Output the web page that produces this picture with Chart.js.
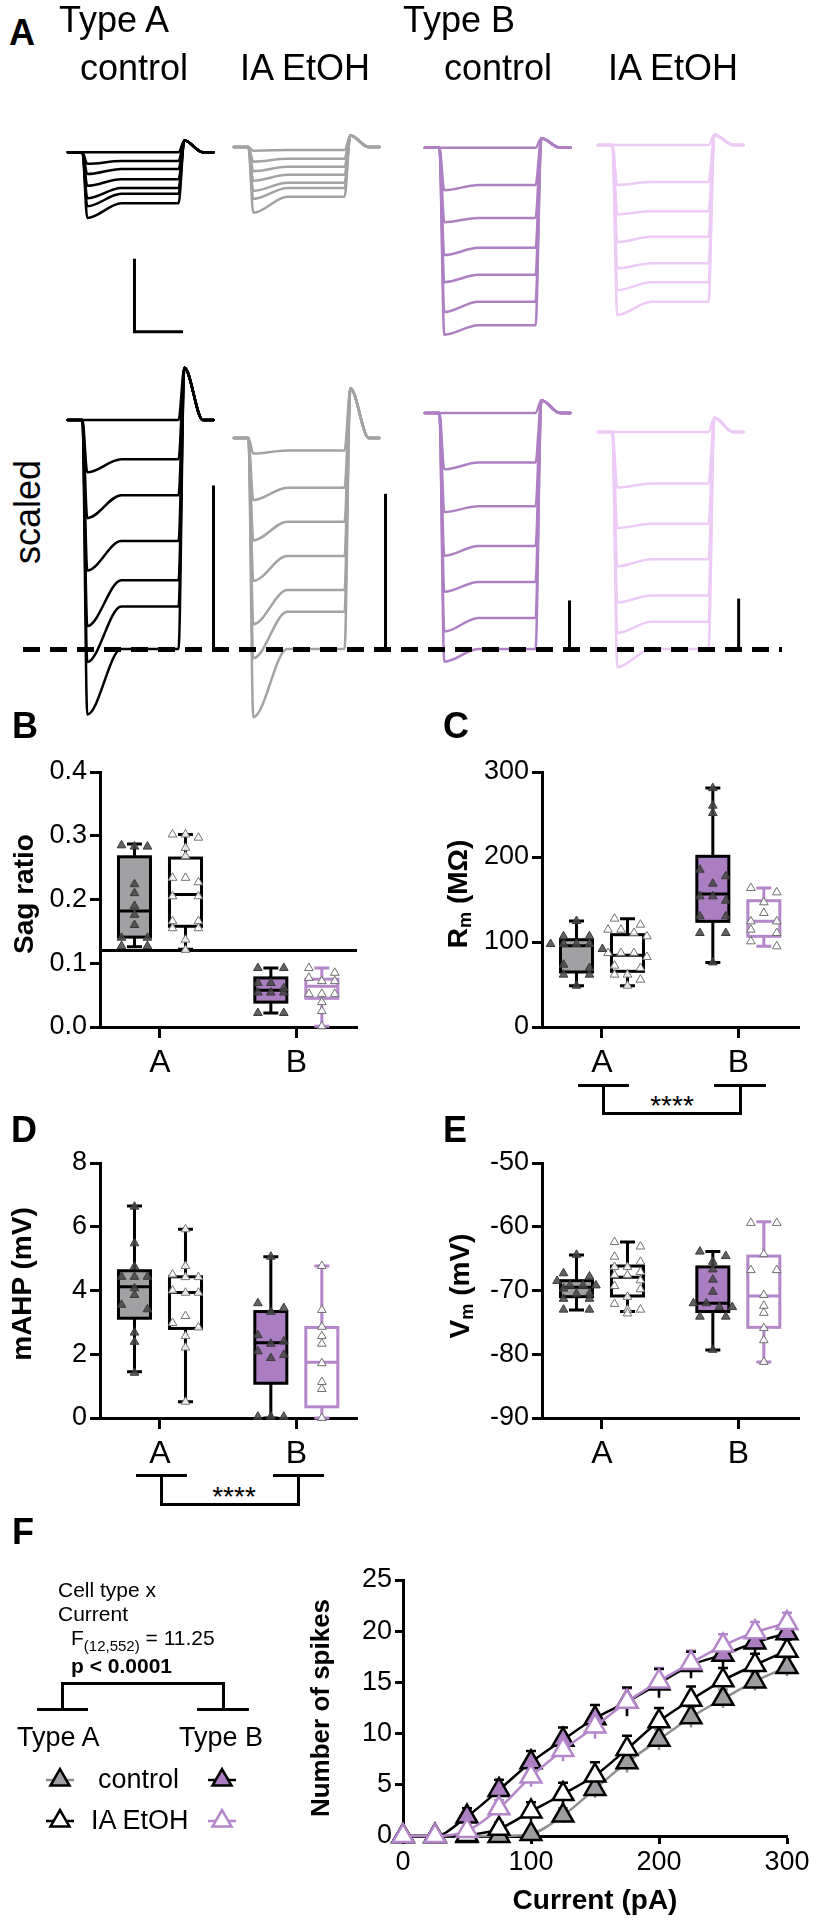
<!DOCTYPE html>
<html>
<head>
<meta charset="utf-8">
<script src="https://cdn.jsdelivr.net/npm/chart.js@4.4.1/dist/chart.umd.min.js"></script>
<style>
html,body{margin:0;padding:0;background:#fff;}
#fig{position:relative;width:814px;height:1920px;overflow:hidden;font-family:"Liberation Sans",Arial,sans-serif;color:#000;}
#fig canvas{position:absolute;}
.t{position:absolute;white-space:nowrap;line-height:1;}
.v{position:absolute;white-space:nowrap;line-height:1;transform:translate(-50%,-50%) rotate(-90deg);font-weight:bold;}
.v sub{font-size:0.65em;vertical-align:-0.25em;}
.ln{position:absolute;background:#000;}
</style>
</head>
<body>
<div id="fig"></div>
<script>
// ---------- A: step traces (ms from step onset, mV) ----------
const stepTimes = [-75, 0, 25, 200, 495, 525, 620, 675];

const aCtrlBase = -70.3;
const aCtrlPeak = [-70.3, -71.9, -73.3, -74.9, -76.6, -77.7, -79.3];
const aCtrlSteady = [-70.3, -71.5, -72.6, -74.0, -75.2, -76.0, -77.3];
const aCtrlRebound = -68.7;

const aEtohBase = -69.6;
const aEtohPeak = [-70.1, -71.6, -72.9, -74.2, -75.6, -76.7, -78.6];
const aEtohSteady = [-70.0, -71.2, -72.3, -73.4, -74.5, -75.2, -76.4];
const aEtohRebound = -68.0;

const bCtrlBase = -69.7;
const bCtrlPeak = [-69.7, -75.5, -79.9, -84.4, -88.1, -92.2, -95.3];
const bCtrlSteady = [-69.7, -74.8, -79.3, -83.4, -87.1, -90.8, -94.0];
const bCtrlRebound = -68.4;

const bEtohBase = -69.3;
const bEtohPeak = [-69.3, -74.8, -78.8, -82.6, -86.2, -89.2, -92.6];
const bEtohSteady = [-69.3, -74.4, -78.4, -81.9, -85.5, -88.1, -90.8];
const bEtohRebound = -67.9;

const scaleBarMv = 10;
const scaleBarMs = 250;
const scaledBarMv = 5;

// ---------- B-E: box plots [min, q1, median, q3, max] ----------
const groupNames = ['A', 'B'];

const sagBox = [[0.126, 0.141, 0.182, 0.267, 0.287], [0.122, 0.158, 0.208, 0.265, 0.302],
                [0.022, 0.039, 0.0575, 0.077, 0.0925], [0.001, 0.045, 0.064, 0.075, 0.0925]];
const sagPts = [
  [0.283, 0.283, 0.285, 0.224, 0.21, 0.19, 0.176, 0.16, 0.14, 0.14, 0.127, 0.127],
  [0.302, 0.302, 0.297, 0.281, 0.268, 0.234, 0.234, 0.227, 0.205, 0.205, 0.166, 0.166, 0.155, 0.155, 0.137, 0.121],
  [0.0925, 0.0925, 0.069, 0.069, 0.061, 0.054, 0.054, 0.054, 0.022, 0.022],
  [0.0925, 0.085, 0.077, 0.072, 0.072, 0.052, 0.052, 0.052, 0.039, 0.025, 0.001]];
const sagCutoff = 0.12;

const rmBox = [[48.6, 64.7, 95.7, 102.7, 124.7], [48.6, 65.5, 84.3, 108.6, 127.5],
               [76, 124.3, 156.5, 200.8, 281.2], [94.9, 106.7, 124.3, 148.6, 163.5]];
const rmPts = [
  [124.7, 106.7, 106.7, 97.6, 97.6, 97.6, 97.6, 91.8, 73.3, 69.4, 61.6, 61.6, 48.6],
  [127.5, 120.4, 114.5, 114.5, 110.6, 106.7, 87, 87, 87, 82.4, 72.2, 69.4, 61.6, 61.6, 55.7, 48.6],
  [281, 260.4, 251.8, 185, 177.3, 168.6, 153.7, 153.7, 148.6, 130.2, 130.2, 110.6, 110.6, 76],
  [163.5, 158.4, 146.7, 134.1, 124.3, 124.3, 114.5, 110.6, 100.8, 94.9]];

const ahpBox = [[1.45, 3.13, 4.12, 4.62, 6.65], [0.51, 2.81, 3.94, 4.43, 5.92],
                [0, 1.09, 2.36, 3.34, 5.06], [0, 0.35, 1.75, 2.84, 4.77]];
const ahpPts = [
  [6.63, 5.48, 4.75, 4.43, 4.43, 4.43, 4.07, 3.86, 3.55, 3.41, 2.68, 2.39, 1.42],
  [5.92, 4.77, 4.5, 4.42, 4.42, 4.0, 3.93, 3.93, 3.2, 2.98, 2.84, 2.57, 2.21, 0.51],
  [5.06, 3.6, 3.45, 3.33, 2.6, 2.4, 2.33, 2.09, 1.98, 1.88, 0.04, 0.04, 0.04],
  [4.77, 3.39, 2.86, 2.57, 2.33, 1.72, 1.13, 0.91, 0]];

const vmBox = [[-73.06, -70.97, -69.5, -68.46, -64.43], [-73.3, -70.86, -67.94, -66.16, -62.4],
               [-79.33, -73.3, -72.0, -66.3, -63.9], [-81.2, -75.78, -70.86, -64.6, -59.2]];
const vmPts = [
  [-64.4, -67.3, -67.8, -68.5, -69.2, -69.2, -69.2, -69.7, -70.5, -70.5, -71.3, -71.3, -73, -73],
  [-62.4, -63.1, -64.7, -65.5, -66.3, -66.3, -67.1, -67.6, -67.6, -68.4, -69.3, -69.8, -71, -72.1, -73, -73, -73.6],
  [-63.9, -64.6, -65.5, -66.7, -68.3, -70.2, -72, -72, -72.6, -72.6, -74.1, -74.1, -79.3],
  [-59.4, -59.4, -64.3, -66.8, -66.8, -70.7, -72.4, -73.5, -75.9, -77.8, -81.2]];

// ---------- F: spikes vs current ----------
const current = [0, 25, 50, 75, 100, 125, 150, 175, 200, 225, 250, 275, 300];
const aCtrlSpikes = [0, 0, 0, 0, 0.2, 2.0, 4.6, 7.2, 9.4, 11.6, 13.4, 15.1, 16.5];
const aEtohSpikes = [0, 0, 0.1, 0.7, 2.4, 4.1, 5.9, 8.5, 11.2, 13.3, 15.2, 16.7, 18.1];
const bCtrlSpikes = [0, 0, 1.9, 4.5, 7.2, 9.4, 11.5, 13.1, 14.9, 16.7, 17.7, 18.9, 19.8];
const bEtohSpikes = [0, 0, 0.5, 2.7, 5.8, 8.4, 10.7, 13.1, 15.1, 16.9, 18.6, 19.9, 20.8];
const aCtrlSem = [0, 0, 0, 0.1, 0.3, 0.7, 0.9, 1.0, 1.0, 1.0, 0.9, 0.9, 0.9];
const aEtohSem = [0, 0, 0.2, 0.6, 0.9, 1.1, 1.3, 1.3, 1.3, 1.3, 1.2, 1.1, 1.1];
const bCtrlSem = [0, 0, 0.8, 1.0, 1.1, 1.2, 1.3, 1.4, 1.4, 1.3, 1.2, 1.1, 1.0];
const bEtohSem = [0, 0, 0.3, 0.8, 1.0, 1.1, 1.2, 1.3, 1.3, 1.2, 1.1, 1.0, 1.0];

// colours
const black = '#000';
const grayLine = '#a3a3a6';
const purple = '#ae80c3';
const lilac = '#edcbf6';
const grayFill = '#a1a1a4';
const purpleFill = '#ab7ec1';
const purpleEdge = '#b586c9';

Chart.defaults.font.family = '"Liberation Sans", Arial, sans-serif';
Chart.defaults.color = '#000';
Chart.defaults.animation = false;
Chart.defaults.events = [];
Chart.defaults.plugins.legend.display = false;
Chart.defaults.plugins.tooltip.enabled = false;

const fig = document.getElementById('fig');

function canvasAt(left, top, w, h) {
  const c = document.createElement('canvas');
  c.width = w; c.height = h;
  c.style.left = left + 'px'; c.style.top = top + 'px';
  c.style.width = w + 'px'; c.style.height = h + 'px';
  fig.appendChild(c);
  return c;
}

function txt(html, left, base, size, bold, center) {
  const d = document.createElement('div');
  d.className = 't';
  d.innerHTML = html;
  d.style.fontSize = size + 'px';
  d.style.left = left + 'px';
  d.style.top = (base - 0.8465 * size) + 'px';
  if (bold) d.style.fontWeight = 'bold';
  if (center) d.style.transform = 'translateX(-50%)';
  fig.appendChild(d);
  return d;
}

function vtxt(html, cx, cy, size) {
  const d = document.createElement('div');
  d.className = 'v';
  d.innerHTML = html;
  d.style.fontSize = size + 'px';
  d.style.left = cx + 'px';
  d.style.top = cy + 'px';
  fig.appendChild(d);
}

function hline(x1, x2, y, w) {
  w = w || 3;
  const d = document.createElement('div');
  d.className = 'ln';
  Object.assign(d.style, {left: x1 + 'px', top: (y - w / 2) + 'px', width: (x2 - x1) + 'px', height: w + 'px'});
  fig.appendChild(d);
}

function vline(x, y1, y2, w) {
  w = w || 3;
  const d = document.createElement('div');
  d.className = 'ln';
  Object.assign(d.style, {left: (x - w / 2) + 'px', top: y1 + 'px', width: w + 'px', height: (y2 - y1) + 'px'});
  fig.appendChild(d);
}

/* PANEL A */

const traceGroups = [
  {base: aCtrlBase, peak: aCtrlPeak, steady: aCtrlSteady, rebound: aCtrlRebound, color: black},
  {base: aEtohBase, peak: aEtohPeak, steady: aEtohSteady, rebound: aEtohRebound, color: grayLine},
  {base: bCtrlBase, peak: bCtrlPeak, steady: bCtrlSteady, rebound: bCtrlRebound, color: purple},
  {base: bEtohBase, peak: bEtohPeak, steady: bEtohSteady, rebound: bEtohRebound, color: lilac}
];

const traceLayout = {
  pxPerMs: 0.194, tMin: -100, tMax: 760,
  onsetPx: [82, 248, 439, 612],
  top: {top: 4, height: 365, vMax: -50, vMin: -100, barAt: [268, -94.9]},
  scaled: {top: 360, height: 380, basePx: [420, 438, 413, 432], floorPx: 649, barT: [675, 706, 670, 650]}
};

function traceChart(gi, row) {
  const g = traceGroups[gi];
  const L = traceLayout;
  const left = L.onsetPx[gi] + L.tMin * L.pxPerMs;
  const width = Math.round((L.tMax - L.tMin) * L.pxPerMs);
  const deep = Math.min(...g.steady);
  let top, height, vMax, vMin;
  if (row === 'top') {
    top = L.top.top; height = L.top.height; vMax = L.top.vMax; vMin = L.top.vMin;
  } else {
    const S = L.scaled;
    top = S.top; height = S.height;
    const k = (S.floorPx - S.basePx[gi]) / (g.base - deep);
    vMax = g.base + (S.basePx[gi] - top) / k;
    vMin = vMax - height / k;
  }

  const datasets = g.steady.map((s, i) => {
    const v = [g.base, g.base, g.peak[i], s, s, g.rebound, g.base, g.base];
    return {
      data: stepTimes.map((t, k) => ({x: t, y: v[k]})),
      borderColor: g.color, borderWidth: 2.5, pointRadius: 0,
      cubicInterpolationMode: 'monotone', clip: false,
      borderJoinStyle: 'round', borderCapStyle: 'round'
    };
  });

  // scale bars
  if (row === 'top' && gi === 0) {
    const [bt, bv] = L.top.barAt;
    datasets.push({
      data: [{x: bt, y: bv + scaleBarMv}, {x: bt, y: bv}, {x: bt + scaleBarMs, y: bv}],
      borderColor: black, borderWidth: 3, pointRadius: 0, tension: 0, clip: false
    });
  }
  if (row === 'scaled') {
    const bt = L.scaled.barT[gi];
    datasets.push({
      data: [{x: bt, y: deep}, {x: bt, y: deep + scaledBarMv}],
      borderColor: black, borderWidth: 3, pointRadius: 0, tension: 0, clip: false
    });
  }

  new Chart(canvasAt(left, top, width, height), {
    type: 'line',
    data: {datasets},
    options: {
      responsive: false,
      layout: {padding: 0},
      scales: {
        x: {type: 'linear', display: false, min: L.tMin, max: L.tMax},
        y: {display: false, min: vMin, max: vMax}
      }
    }
  });
}

for (let i = 0; i < 4; i++) { traceChart(i, 'top'); traceChart(i, 'scaled'); }

// dashed reference line
const dash = document.createElement('div');
Object.assign(dash.style, {position: 'absolute', left: '23px', top: '646.5px', width: '759px', height: '5px',
  background: 'repeating-linear-gradient(90deg,#000 0 17px,transparent 17px 27px)'});
fig.appendChild(dash);

txt('A', 9, 45, 36, true);
txt('Type A', 59, 32, 36);
txt('Type B', 403, 32, 36);
txt('control', 80, 80, 36);
txt('IA EtOH', 240, 80, 36);
txt('control', 444, 80, 36);
txt('IA EtOH', 608, 80, 36);
vtxt('<span style="font-weight:normal">scaled</span>', 28, 512, 36);

/* BOX PLOTS */

const boxX = [0.813, 1.187, 1.813, 2.187];
const boxStyle = [
  {fill: grayFill, line: black, open: false},
  {fill: '#fff', line: black, open: true},
  {fill: purpleFill, line: black, open: false},
  {fill: '#fff', line: purpleEdge, open: true}
];

function swarm(vals, center, range) {
  const sorted = vals.map(v => v).sort((a, b) => b - a);
  const rows = [];
  sorted.forEach(v => {
    const last = rows[rows.length - 1];
    if (last && last[0] - v < range * 0.026) last.push(v); else rows.push([v]);
  });
  const pts = [];
  rows.forEach(r => r.forEach((v, k) => {
    const off = r.length === 1 ? 0 : r.length === 2 ? (k ? 1 : -1) : k - (r.length - 1) / 2;
    pts.push({x: center + off * 0.095, y: v});
  }));
  return pts;
}

const boxPlugin = {
  id: 'boxes',
  beforeDatasetsDraw(chart, args, opts) {
    const {ctx, scales: {x, y}, chartArea} = chart;
    ctx.save();
    ctx.lineCap = 'butt';
    if (opts.cutoff != null) {
      ctx.strokeStyle = black; ctx.lineWidth = 3;
      const py = y.getPixelForValue(opts.cutoff);
      ctx.beginPath(); ctx.moveTo(chartArea.left, py); ctx.lineTo(chartArea.right, py); ctx.stroke();
    }
    opts.stats.forEach((s, i) => {
      const st = boxStyle[i];
      const cx = x.getPixelForValue(boxX[i]);
      const [lo, q1, med, q3, hi] = s.map(v => y.getPixelForValue(v));
      ctx.strokeStyle = st.line; ctx.lineWidth = 3;
      ctx.beginPath();
      ctx.moveTo(cx, hi); ctx.lineTo(cx, lo);
      ctx.moveTo(cx - 7.5, hi); ctx.lineTo(cx + 7.5, hi);
      ctx.moveTo(cx - 7.5, lo); ctx.lineTo(cx + 7.5, lo);
      ctx.stroke();
      ctx.fillStyle = st.fill;
      ctx.fillRect(cx - 16, q3, 32, q1 - q3);
      ctx.strokeRect(cx - 16, q3, 32, q1 - q3);
      ctx.beginPath(); ctx.moveTo(cx - 16, med); ctx.lineTo(cx + 16, med); ctx.stroke();
    });
    ctx.restore();
  }
};

function boxChart(left, top, stats, pts, yMin, yMax, step, fmt, cutoff) {
  const datasets = pts.map((vals, i) => ({
    data: swarm(vals, boxX[i], yMax - yMin),
    pointStyle: 'triangle', pointRadius: 5, pointBorderWidth: 1,
    pointBackgroundColor: boxStyle[i].open ? 'rgba(255,255,255,0.9)' : 'rgba(70,70,70,0.85)',
    pointBorderColor: boxStyle[i].open ? '#707070' : '#3a3a3a',
    clip: false
  }));
  new Chart(canvasAt(left, top, 370, 337), {
    type: 'scatter',
    data: {datasets},
    options: {
      responsive: false,
      layout: {padding: {left: 0, right: 13, top: 32, bottom: 0}},
      plugins: {boxes: {stats, cutoff}},
      scales: {
        x: {
          type: 'linear', min: 0.56, max: 2.445,
          afterFit: s => { s.height = 50; },
          afterBuildTicks: s => { s.ticks = [{value: 1}, {value: 2}]; },
          ticks: {autoSkip: false, callback: v => groupNames[v - 1], font: {size: 32}, padding: 6, color: black, maxRotation: 0},
          grid: {drawOnChartArea: false, tickLength: 11, tickWidth: 3, tickColor: black},
          border: {width: 3, color: black}
        },
        y: {
          min: yMin, max: yMax,
          afterFit: s => { s.width = 100; },
          ticks: {stepSize: step, callback: fmt, font: {size: 27}, padding: 3, color: black},
          grid: {drawOnChartArea: false, tickLength: 10, tickWidth: 3, tickColor: black},
          border: {width: 3, color: black}
        }
      }
    },
    plugins: [boxPlugin]
  });
}

const plain = v => String(Math.round(v));
boxChart(0, 740, sagBox, sagPts, 0, 0.4, 0.1, v => v.toFixed(1), sagCutoff);
boxChart(442, 740, rmBox, rmPts, 0, 300, 100, plain);
boxChart(0, 1131, ahpBox, ahpPts, 0, 8, 2, plain);
boxChart(442, 1131, vmBox, vmPts, -90, -50, 10, plain);

txt('B', 12, 738, 36, true);
txt('C', 443, 738, 36, true);
txt('D', 11, 1142, 36, true);
txt('E', 443, 1142, 36, true);

vtxt('Sag ratio', 24, 894, 28);
vtxt('R<sub>m</sub> (M&Omega;)', 459, 894, 28);
vtxt('mAHP (mV)', 22, 1284, 28);
vtxt('V<sub>m</sub> (mV)', 461, 1286, 28);

// significance brackets
hline(578, 629, 1085); hline(714, 766, 1085);
vline(603, 1085, 1113); vline(740, 1085, 1113);
hline(601.5, 741.5, 1113);
txt('****', 672, 1116, 28, false, true);

hline(136, 187, 1475); hline(273, 324, 1475);
vline(161, 1475, 1504); vline(298, 1475, 1504);
hline(159.5, 299.5, 1504);
txt('****', 234, 1507, 28, false, true);

/* PANEL F */

const fSeries = [
  {name: 'Type B IA EtOH', y: bEtohSpikes, sem: bEtohSem, line: purpleEdge, fill: '#fff', edge: purpleEdge},
  {name: 'Type B control', y: bCtrlSpikes, sem: bCtrlSem, line: black, fill: purpleFill, edge: black},
  {name: 'Type A IA EtOH', y: aEtohSpikes, sem: aEtohSem, line: black, fill: '#fff', edge: black},
  {name: 'Type A control', y: aCtrlSpikes, sem: aCtrlSem, line: '#8f8f8f', fill: '#9e9ea1', edge: black}
];

const errorBars = {
  id: 'errorBars',
  beforeDatasetsDraw(chart) {
    const {ctx, scales: {x, y}} = chart;
    ctx.save();
    ctx.lineWidth = 2.5;
    chart.data.datasets.forEach(ds => {
      ctx.strokeStyle = ds.borderColor;
      ds.data.forEach((p, i) => {
        const e = ds.sem[i];
        if (!e) return;
        const px = x.getPixelForValue(p.x);
        const t = y.getPixelForValue(p.y + e), b = y.getPixelForValue(Math.max(0, p.y - e));
        ctx.beginPath();
        ctx.moveTo(px, t); ctx.lineTo(px, b);
        ctx.moveTo(px - 5, t); ctx.lineTo(px + 5, t);
        ctx.stroke();
      });
    });
    ctx.restore();
  }
};

// legend markers, drawn like the chart's points
const legendMarks = [
  {x: 60, y: 230, s: 3}, {x: 222, y: 230, s: 1},
  {x: 60, y: 271, s: 2}, {x: 222, y: 271, s: 0}
];
const fLegend = {
  id: 'fLegend',
  afterDraw(chart) {
    const ctx = chart.ctx;
    legendMarks.forEach(m => {
      const s = fSeries[m.s];
      ctx.save();
      ctx.lineWidth = 2.5;
      ctx.strokeStyle = s.line;
      ctx.beginPath(); ctx.moveTo(m.x - 14, m.y); ctx.lineTo(m.x + 14, m.y); ctx.stroke();
      ctx.fillStyle = s.fill;
      ctx.strokeStyle = s.edge;
      Chart.helpers.drawPoint(ctx, {pointStyle: 'triangle', radius: 11, borderWidth: 2.5, rotation: 0}, m.x, m.y);
      ctx.restore();
    });
  }
};

new Chart(canvasAt(0, 1550, 814, 370), {
  type: 'scatter',
  data: {
    datasets: fSeries.map((s, i) => ({
      label: s.name,
      data: current.map((c, k) => ({x: c, y: s.y[k]})),
      sem: s.sem,
      showLine: true,
      borderColor: s.line, borderWidth: 2.5,
      cubicInterpolationMode: 'monotone',
      pointStyle: 'triangle', pointRadius: 12, pointBorderWidth: 2.5,
      pointBackgroundColor: s.fill, pointBorderColor: s.edge,
      order: i, clip: false
    }))
  },
  options: {
    responsive: false,
    layout: {padding: {left: 300, right: 27, top: 30, bottom: 0}},
    scales: {
      x: {
        type: 'linear', min: 0, max: 300,
        afterFit: s => { s.height = 84; },
        ticks: {stepSize: 100, font: {size: 27}, padding: 2, color: black, maxRotation: 0},
        grid: {drawOnChartArea: false, tickLength: 8, tickWidth: 3, tickColor: black},
        border: {width: 3, color: black},
        title: {display: true, text: 'Current (pA)', font: {size: 28, weight: 'bold'}, padding: {top: 0, bottom: 2}, color: black}
      },
      y: {
        min: 0, max: 25,
        afterFit: s => { s.width = 103; },
        ticks: {stepSize: 5, font: {size: 27}, padding: 3, color: black},
        grid: {drawOnChartArea: false, tickLength: 8, tickWidth: 3, tickColor: black},
        border: {width: 3, color: black},
        title: {display: true, text: 'Number of spikes', font: {size: 26, weight: 'bold'}, padding: {top: 6, bottom: 0}, color: black}
      }
    }
  },
  plugins: [errorBars, fLegend]
});

txt('F', 12, 1544, 36, true);
txt('Cell type x', 58, 1597, 21);
txt('Current', 58, 1621, 21);
txt('F<span style="font-size:15px;position:relative;top:6px">(12,552)</span> = 11.25', 71, 1645, 21);
txt('p &lt; 0.0001', 71, 1673, 21, true);
hline(60.5, 224.5, 1683);
vline(62, 1683, 1709); vline(223, 1683, 1709);
hline(37, 88, 1709); hline(197, 249, 1709);
txt('Type A', 17, 1747, 27);
txt('Type B', 179, 1747, 27);
txt('control', 98, 1789, 27);
txt('IA EtOH', 91, 1830, 27);
</script>
</body>
</html>
